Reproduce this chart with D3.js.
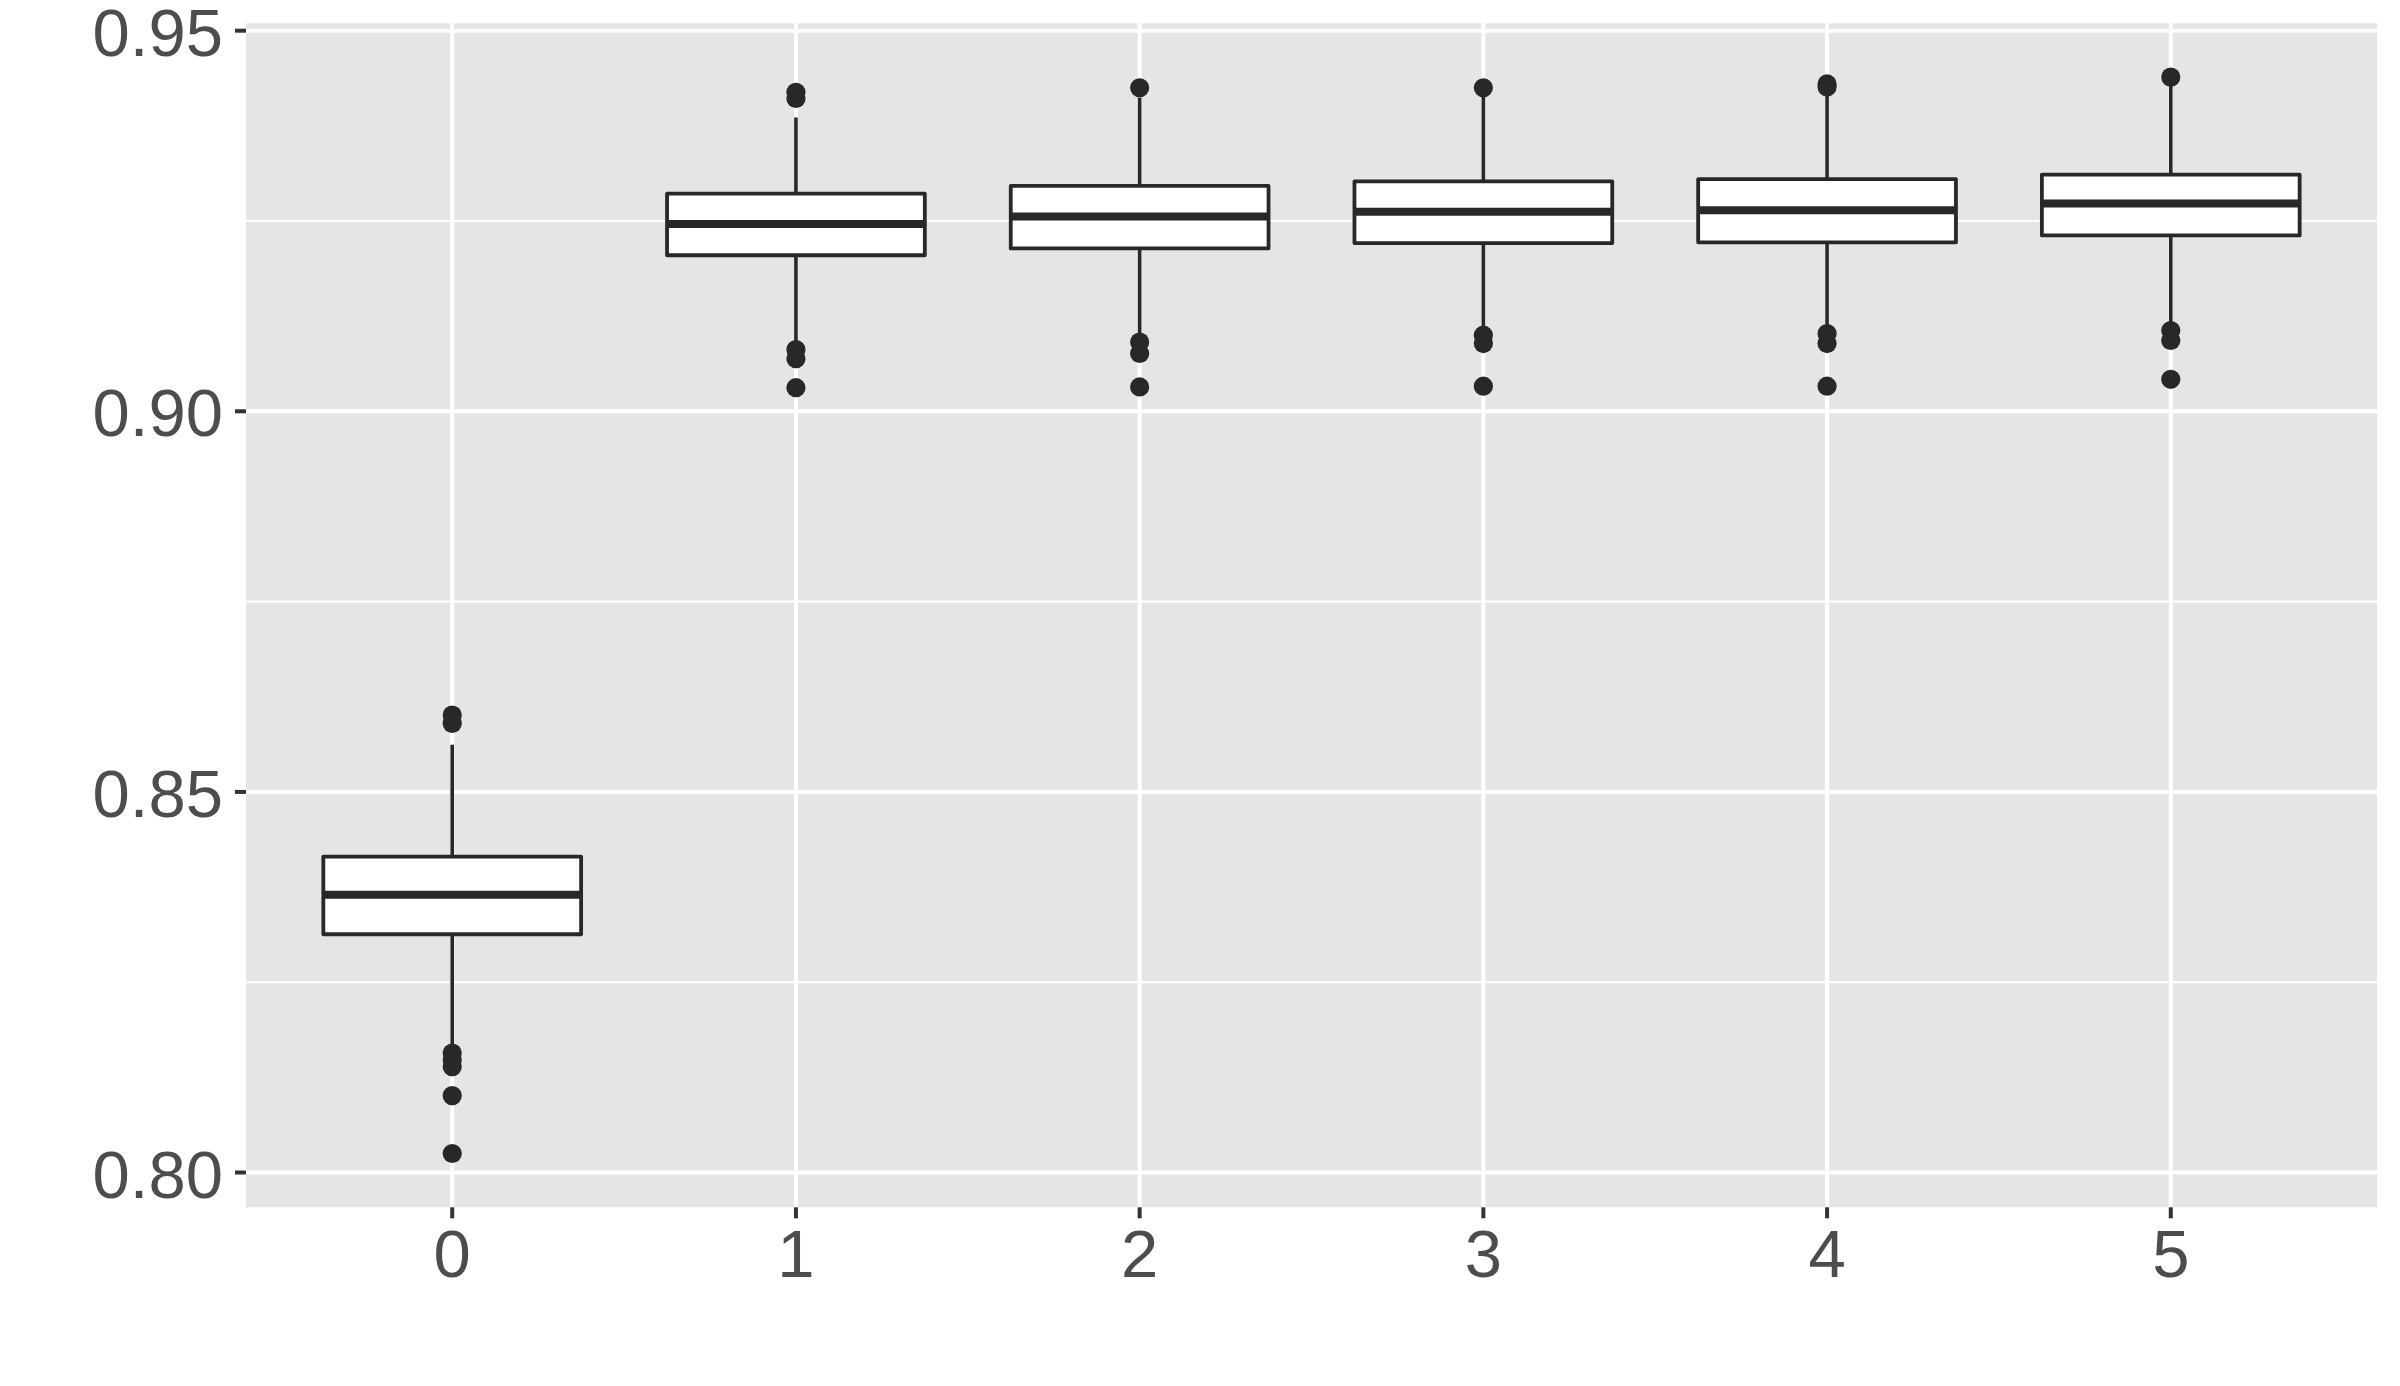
<!DOCTYPE html>
<html>
<head>
<meta charset="utf-8">
<script src="https://cdn.jsdelivr.net/npm/d3@7"></script>
<style>
  html, body { margin: 0; padding: 0; background: #ffffff; }
  svg { display: block; }
  text { font-family: "Liberation Sans", Arial, Helvetica, sans-serif; }
</style>
</head>
<body>
<script>
// ---- data ----
const categories = ["0", "1", "2", "3", "4", "5"];
const q1        = [0.8313, 0.9205, 0.9214, 0.9221, 0.9222, 0.9231];
const medians   = [0.8365, 0.9246, 0.9256, 0.9262, 0.9264, 0.9273];
const q3        = [0.8415, 0.9286, 0.9296, 0.9302, 0.9305, 0.9311];
const whiskerLo = [0.8163, 0.9088, 0.9098, 0.9108, 0.9110, 0.9114];
const whiskerHi = [0.8562, 0.9386, 0.9412, 0.9414, 0.9415, 0.9428];
const outliers  = [
  [0.8601, 0.8590, 0.8157, 0.8148, 0.8139, 0.8101, 0.8025],
  [0.9419, 0.9411, 0.9081, 0.9069, 0.9031],
  [0.9425, 0.9091, 0.9076, 0.9032],
  [0.9425, 0.9100, 0.9089, 0.9033],
  [0.9430, 0.9426, 0.9102, 0.9089, 0.9033],
  [0.9439, 0.9106, 0.9093, 0.9042]
];
const yMajorTicks = [0.80, 0.85, 0.90, 0.95];
const yMinorTicks = [0.825, 0.875, 0.925];
const yTickLabels = ["0.80", "0.85", "0.90", "0.95"];

// ---- layout ----
const W = 2400, H = 1386;
const panel = { left: 246, right: 2377, top: 23.3, bottom: 1207.3 };
const ink = "#282828";

const svg = d3.select("body").append("svg").attr("width", W).attr("height", H);

// y scale with ggplot-like 5% expansion
const allVals = outliers.flat().concat(whiskerLo, whiskerHi);
const yMin = d3.min(allVals), yMax = d3.max(allVals);
const pad = (yMax - yMin) * 0.05;
const y = d3.scaleLinear().domain([yMin - pad, yMax + pad]).range([panel.bottom, panel.top]);

// x: discrete scale with 0.6 expansion on each side
const x = d3.scalePoint().domain(categories).range([panel.left, panel.right]).padding(0.6);
const step = x.step();
const boxW = step * 0.75;

// panel background
svg.append("rect")
  .attr("x", panel.left).attr("y", panel.top)
  .attr("width", panel.right - panel.left).attr("height", panel.bottom - panel.top)
  .attr("fill", "#E5E5E5");

// grid
svg.append("g").selectAll("line").data(yMinorTicks).join("line")
  .attr("x1", panel.left).attr("x2", panel.right)
  .attr("y1", d => y(d)).attr("y2", d => y(d))
  .attr("stroke", "#ffffff").attr("stroke-width", 2);
svg.append("g").selectAll("line").data(yMajorTicks).join("line")
  .attr("x1", panel.left).attr("x2", panel.right)
  .attr("y1", d => y(d)).attr("y2", d => y(d))
  .attr("stroke", "#ffffff").attr("stroke-width", 4);
svg.append("g").selectAll("line").data(categories).join("line")
  .attr("x1", d => x(d)).attr("x2", d => x(d))
  .attr("y1", panel.top).attr("y2", panel.bottom)
  .attr("stroke", "#ffffff").attr("stroke-width", 4);

// boxes
const data = categories.map((c, i) => ({
  c, q1: q1[i], med: medians[i], q3: q3[i], lo: whiskerLo[i], hi: whiskerHi[i], out: outliers[i]
}));

const g = svg.append("g");
// whiskers
g.selectAll("line.wu").data(data).join("line").attr("class", "wu")
  .attr("x1", d => x(d.c)).attr("x2", d => x(d.c))
  .attr("y1", d => y(d.q3)).attr("y2", d => y(d.hi))
  .attr("stroke", ink).attr("stroke-width", 3.6);
g.selectAll("line.wl").data(data).join("line").attr("class", "wl")
  .attr("x1", d => x(d.c)).attr("x2", d => x(d.c))
  .attr("y1", d => y(d.q1)).attr("y2", d => y(d.lo))
  .attr("stroke", ink).attr("stroke-width", 3.6);
// box body
g.selectAll("rect.box").data(data).join("rect").attr("class", "box")
  .attr("x", d => x(d.c) - boxW / 2).attr("width", boxW)
  .attr("y", d => y(d.q3)).attr("height", d => y(d.q1) - y(d.q3))
  .attr("fill", "#ffffff").attr("stroke", ink).attr("stroke-width", 3.8)
  .attr("stroke-linejoin", "round");
// medians
g.selectAll("line.med").data(data).join("line").attr("class", "med")
  .attr("x1", d => x(d.c) - boxW / 2).attr("x2", d => x(d.c) + boxW / 2)
  .attr("y1", d => y(d.med)).attr("y2", d => y(d.med))
  .attr("stroke", ink).attr("stroke-width", 8);
// outliers
data.forEach(d => {
  g.append("g").selectAll("circle").data(d.out).join("circle")
    .attr("cx", x(d.c)).attr("cy", v => y(v)).attr("r", 9.6)
    .attr("fill", ink);
});

// y axis ticks + labels
const yAx = svg.append("g");
yAx.selectAll("line").data(yMajorTicks).join("line")
  .attr("x1", panel.left - 11).attr("x2", panel.left)
  .attr("y1", d => y(d)).attr("y2", d => y(d))
  .attr("stroke", "#333333").attr("stroke-width", 4);
yAx.selectAll("text").data(yMajorTicks).join("text")
  .attr("x", 223).attr("y", d => y(d) + 25)
  .attr("text-anchor", "end")
  .attr("font-size", 67).attr("fill", "#4D4D4D")
  .text((d, i) => yTickLabels[i]);

// x axis ticks + labels
const xAx = svg.append("g");
xAx.selectAll("line").data(categories).join("line")
  .attr("x1", d => x(d)).attr("x2", d => x(d))
  .attr("y1", panel.bottom).attr("y2", panel.bottom + 11)
  .attr("stroke", "#333333").attr("stroke-width", 4);
xAx.selectAll("text").data(categories).join("text")
  .attr("x", d => x(d)).attr("y", 1276.5)
  .attr("text-anchor", "middle")
  .attr("font-size", 67).attr("fill", "#4D4D4D")
  .text(d => d);
</script>
</body>
</html>
